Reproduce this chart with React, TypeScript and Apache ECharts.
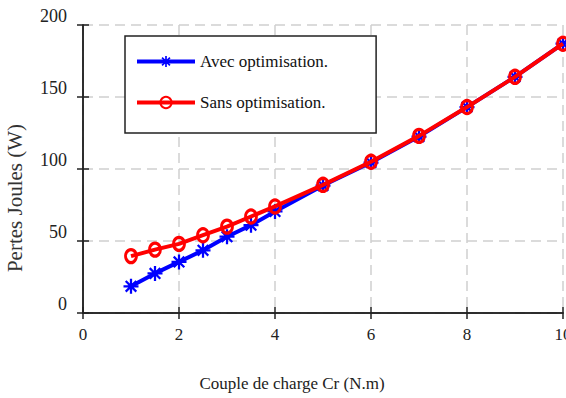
import React, { useEffect, useRef } from "react";
import * as echarts from "echarts";

const torque = [1, 1.5, 2, 2.5, 3, 3.5, 4, 5, 6, 7, 8, 9, 10];
const avecOptimisation = [18.5, 27.5, 35.5, 43.5, 53, 61, 70.5, 88.5, 104.5, 122.5, 143, 164, 187];
const sansOptimisation = [39.5, 44, 48, 54, 60, 67, 74, 89, 105, 123, 143, 164, 187];
const seriesNames = ["Avec optimisation.", "Sans optimisation."];
const xAxisTitle = "Couple de charge Cr (N.m)";
const yAxisTitle = "Pertes Joules (W)";

const FONT = "Liberation Serif";
const STAR =
  "path://M8.5 0 L11.5 0 L11.5 20 L8.5 20 Z M0 8.5 L20 8.5 L20 11.5 L0 11.5 Z M4 1.9 L18.1 16 L16 18.1 L1.9 4 Z M16 1.9 L18.1 4 L4 18.1 L1.9 16 Z";

export default function App() {
  const ref = useRef<HTMLDivElement>(null);
  useEffect(() => {
    if (!ref.current) return;
    const chart = echarts.init(ref.current, undefined, { renderer: "svg" });
    const axisLine = { show: true, lineStyle: { color: "#222", width: 1.5 } };
    const tick = { show: true, inside: true, length: 6, lineStyle: { color: "#222", width: 1.5 } };
    chart.setOption({
      animation: false,
      backgroundColor: "#fff",
      textStyle: { fontFamily: FONT },
      grid: { left: 83, right: 3, top: 25, bottom: 85, containLabel: false, outerBoundsMode: "none" },
      legend: {
        left: 125,
        top: 36,
        orient: "vertical",
        backgroundColor: "#fff",
        borderColor: "#222",
        borderWidth: 1.5,
        borderRadius: 0,
        padding: [17, 48, 22, 10],
        itemGap: 24,
        itemWidth: 58,
        itemHeight: 14,
        lineStyle: { width: 4 },
        textStyle: { fontFamily: FONT, fontSize: 17, color: "#111" },
        data: seriesNames,
      },
      xAxis: [
        {
          type: "value",
          min: 0,
          max: 10,
          interval: 2,
          position: "bottom",
          axisLine,
          axisTick: tick,
          axisLabel: { fontFamily: FONT, fontSize: 17, color: "#222", margin: 13 },
          splitLine: { show: true, lineStyle: { color: "#d0d0d0", width: 1.5, type: [10, 6] } },
          name: xAxisTitle,
          nameLocation: "middle",
          nameGap: 62,
          nameTextStyle: { fontFamily: FONT, fontSize: 17, color: "#222", padding: [0, 62, 0, 0] },
        },
        {
          type: "value",
          min: 0,
          max: 10,
          interval: 2,
          position: "top",
          axisLine,
          axisTick: tick,
          axisLabel: { show: false },
          splitLine: { show: false },
        },
      ],
      yAxis: [
        {
          type: "value",
          min: 0,
          max: 200,
          interval: 50,
          position: "left",
          axisLine,
          axisTick: tick,
          axisLabel: { fontFamily: FONT, fontSize: 18, color: "#222", margin: 16, verticalAlign: "bottom" },
          splitLine: { show: true, lineStyle: { color: "#d0d0d0", width: 1.5, type: [10, 6] } },
          name: yAxisTitle,
          nameLocation: "middle",
          nameGap: 58,
          nameRotate: 90,
          nameTextStyle: { fontFamily: FONT, fontSize: 21, color: "#333", padding: [0, 0, 0, -58] },
        },
        {
          type: "value",
          min: 0,
          max: 200,
          interval: 50,
          position: "right",
          axisLine,
          axisTick: tick,
          axisLabel: { show: false },
          splitLine: { show: false },
        },
      ],
      series: [
        {
          name: seriesNames[0],
          type: "line",
          data: torque.map((x, i) => [x, avecOptimisation[i]]),
          symbol: STAR,
          symbolSize: 15,
          lineStyle: { color: "#0000ff", width: 4 },
          itemStyle: { color: "#0000ff" },
          z: 2,
        },
        {
          name: seriesNames[1],
          type: "line",
          data: torque.map((x, i) => [x, sansOptimisation[i]]),
          symbol: "circle",
          symbolSize: [11, 13],
          lineStyle: { color: "#ff0000", width: 4 },
          itemStyle: { color: "rgba(0,0,0,0)", borderColor: "#ff0000", borderWidth: 3 },
          z: 3,
        },
      ],
    });
    return () => chart.dispose();
  }, []);
  return (
    <div
      ref={ref}
      style={{ position: "absolute", left: 0, top: 0, width: 566, height: 398 }}
    />
  );
}
